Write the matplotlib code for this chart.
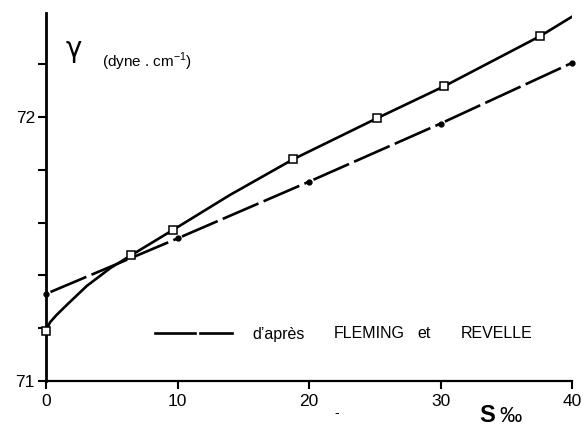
import matplotlib
matplotlib.use("Agg")
import matplotlib.pyplot as plt
from matplotlib.lines import Line2D

plt.rcParams['font.family'] = ['Liberation Sans', 'DejaVu Sans']
plt.rcParams['lines.scale_dashes'] = False

# Measured surface tension (solid curve, open squares)
s_meas = [0.0, 6.5, 9.65, 18.8, 25.2, 30.3, 37.6]
g_meas = [71.19, 71.477, 71.572, 71.84, 71.996, 72.117, 72.307]
# solid curve traced between the squares
s_curve = [0.0, 0.3, 0.8, 1.6, 3.1, 4.9, 6.5, 9.65, 14.0, 18.8, 25.2, 30.3, 37.6, 40.0]
g_curve = [71.19, 71.222, 71.25, 71.289, 71.36, 71.428, 71.477, 71.572, 71.705, 71.84, 71.996, 72.117, 72.307, 72.38]

# d'après FLEMING et REVELLE (dash line with dots)
s_fr = [0, 10, 20, 30, 40]
g_fr = [71.33, 71.54, 71.755, 71.975, 72.205]

xticks = [0, 10, 20, 30, 40]
yticks = [71.2, 71.4, 71.6, 71.8, 72.0, 72.2]
ylabels = {71.0: '71', 72.0: '72'}

W, H = 584, 426
fig = plt.figure(figsize=(W / 100, H / 100), dpi=100)
x0, x1, ytop, ybot = 46, 572, 13, 381
ax = fig.add_axes([x0 / W, (H - ybot) / H, (x1 - x0) / W, (ybot - ytop) / H])
ax.set_xlim(0, 40)
ax.set_ylim(71.0, 71.0 + (ybot - ytop) / 264.0)

for sp in ['top', 'right']:
    ax.spines[sp].set_visible(False)
ax.spines['left'].set_linewidth(2.0)
ax.spines['bottom'].set_linewidth(1.6)

ax.set_xticks(xticks)
ax.set_xticklabels([str(v) for v in xticks])
ax.set_yticks([71.0] + yticks)
ax.set_yticklabels([ylabels.get(round(v, 1), '') for v in [71.0] + yticks])
ax.tick_params(axis='both', direction='out', length=6, width=1.5, labelsize=12.5, pad=3)
ax.tick_params(axis='y', pad=2)

# solid curve
ax.plot(s_curve, g_curve, color='black', lw=1.9, solid_capstyle='round', zorder=3)
ax.plot(s_meas, g_meas, ls='none', marker='s', ms=6.3, mfc='white', mec='black', mew=1.1,
        zorder=5, clip_on=False)

# Fleming & Revelle: dashed segments between dotted points
for i in range(len(s_fr) - 1):
    ln = Line2D([s_fr[i], s_fr[i + 1]], [g_fr[i], g_fr[i + 1]], color='black', lw=1.9, zorder=2)
    ln.set_linestyle((-3.5, (28, 4)))
    ax.add_line(ln)
ax.plot(s_fr, g_fr, ls='none', marker='o', ms=3.5, color='black', zorder=4, clip_on=False)

def fx(px):
    return px / W

def fy(py):
    return 1 - py / H

# legend sample
fig.add_artist(Line2D([fx(155), fx(195)], [fy(333), fy(333)], color='black', lw=1.9))
fig.add_artist(Line2D([fx(200), fx(232)], [fy(333), fy(333)], color='black', lw=1.9))
fig.text(fx(252), fy(334), "d\u2019après", fontsize=11.5, va='center', ha='left')
fig.text(fx(334), fy(334), "FLEMING", fontsize=11.5, va='center', ha='left')
fig.text(fx(417), fy(334), "et", fontsize=11.5, va='center', ha='left')
fig.text(fx(461), fy(334), "REVELLE", fontsize=11.5, va='center', ha='left')

# axis titles
fig.text(fx(66), fy(49), "\u03b3", fontsize=20, va='center', ha='left', family=['DejaVu Sans'])
fig.text(fx(102), fy(62), "(dyne . cm$^{\\mathregular{-1}}$)", fontsize=11, va='center', ha='left')
fig.text(fx(479), fy(415), "S", fontsize=17, fontweight='bold', va='center', ha='left')
fig.text(fx(499), fy(417), "\u2030", fontsize=16, va='center', ha='left')
fig.text(fx(334), fy(413), "-", fontsize=10, va='center', ha='left')

fig.savefig("out.png", dpi=100)
